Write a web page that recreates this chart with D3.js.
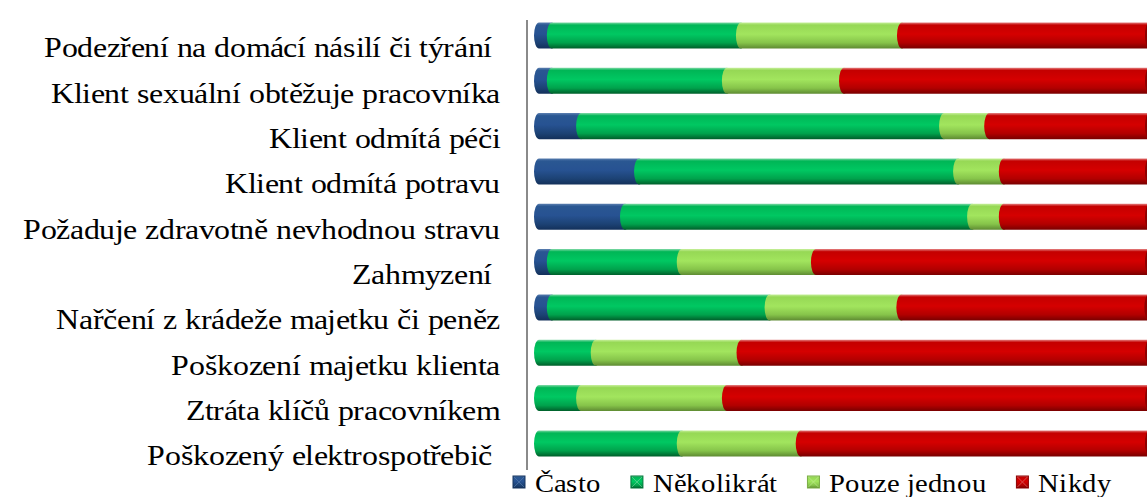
<!DOCTYPE html>
<html>
<head>
<meta charset="utf-8">
<script src="https://d3js.org/d3.v7.min.js"></script>
<style>
    @font-face {
        font-family: "ChartSerif";
        src: local("Liberation Serif"), local("LiberationSerif"), local("LiberationSerif-Regular"),
             local("Tinos"), local("Times New Roman");
    }
</style>
</head>
<body style="margin:0">
<svg width="1147" height="497"></svg>
<script>
    // categories top to bottom (trailing spaces are in the source labels)
    var categories = [
        "Podezření na domácí násilí či týrání ",
        "Klient sexuální obtěžuje pracovníka",
        "Klient odmítá péči",
        "Klient odmítá potravu",
        "Požaduje zdravotně nevhodnou stravu",
        "Zahmyzení ",
        "Nařčení z krádeže majetku či peněz",
        "Poškození majetku klienta",
        "Ztráta klíčů pracovníkem",
        "Poškozený elektrospotřebič "
    ];
    var seriesNames = ["Často", "Několikrát", "Pouze jednou", "Nikdy"];

    // percentages
    var casto      = [2.1, 2.1, 6.9, 16.4, 14.1, 2.1, 2.1, 0, 0, 0];
    var nekolikrat = [31.0, 28.7, 59.5, 52.3, 56.9, 21.3, 35.7, 9.3, 6.9, 23.4];
    var pouzeJednou = [26.4, 19.2, 7.4, 7.5, 5.2, 22.0, 21.6, 23.9, 23.9, 19.5];
    var nikdy      = [40.5, 50.0, 26.2, 23.8, 23.8, 54.6, 40.5, 66.8, 69.2, 57.1];

    var seriesValues = [casto, nekolikrat, pouzeJednou, nikdy];

    // gradient stops per series: top edge, upper, middle, lower, bottom
    var shades = [
        ["#5b7fb0", "#2a5792", "#275292", "#1c4274", "#13305a"],
        ["#7fd9a6", "#00b656", "#00c862", "#00a24c", "#005e2a"],
        ["#c6ef9a", "#96d855", "#a2e55e", "#86c44a", "#5e8a32"],
        ["#e48080", "#c40000", "#d50000", "#b20000", "#780000"]
    ];
    var capShades = ["#16345f", "#00773a", "#7aad45", "#8c0000"];

    var fontStack = "ChartSerif, 'Liberation Serif', Tinos, serif";
    var stretch = 1.1;  // the source picture is a bit wider than tall

    var svg = d3.select("svg");

    var x = d3.scaleLinear().domain([0, 100]).range([539, 1149]);
    var y = d3.scaleBand().domain(categories).range([12.8, 466.1])
        .paddingInner(0.426).paddingOuter(0.213);

    var defs = svg.append("defs");
    shades.forEach(function (s, i) {
        var g = defs.append("linearGradient")
            .attr("id", "grad" + i)
            .attr("x1", 0).attr("y1", 0).attr("x2", 0).attr("y2", 1);
        var offs = [0, 0.1, 0.45, 0.78, 1];
        s.forEach(function (c, k) {
            g.append("stop").attr("offset", offs[k]).attr("stop-color", c);
        });
    });

    // axis line
    svg.append("g")
        .attr("transform", "translate(527,0)")
        .call(d3.axisLeft(y).tickSize(0).tickFormat(""))
        .select(".domain")
        .attr("d", "M0,20V470")
        .attr("stroke", "#8a8a8a")
        .attr("stroke-width", 2);

    // stacked rows
    var rows = categories.map(function (c, i) {
        var acc = 0;
        return seriesValues.map(function (vals, s) {
            var seg = {cat: c, s: s, x0: acc, x1: acc + vals[i]};
            acc += vals[i];
            return seg;
        });
    });

    var rx = 5;
    function segPath(d) {
        var x0 = x(d.x0), x1 = x(d.x1);
        var t = y(d.cat), h = y.bandwidth(), ry = h / 2;
        return "M" + x0 + "," + t +
            "L" + x1 + "," + t +
            "A" + rx + "," + ry + " 0 0 1 " + x1 + "," + (t + h) +
            "L" + x0 + "," + (t + h) +
            "A" + rx + "," + ry + " 0 0 1 " + x0 + "," + t + "Z";
    }

    var rowG = svg.selectAll(".row")
        .data(rows)
        .enter().append("g")
        .attr("class", "row");

    rowG.selectAll("path")
        .data(function (r) { return r.filter(function (d) { return d.x1 - d.x0 > 0; }); })
        .enter().append("path")
        .attr("d", segPath)
        .attr("fill", function (d) { return "url(#grad" + d.s + ")"; });

    // end face of each cylinder
    rowG.append("ellipse")
        .attr("cx", function (r) { return x(r[r.length - 1].x1); })
        .attr("cy", function (r) { return y(r[0].cat) + y.bandwidth() / 2; })
        .attr("rx", rx - 1)
        .attr("ry", y.bandwidth() / 2 - 0.5)
        .attr("fill", function (r) { return capShades[r[r.length - 1].s]; });

    // category labels
    svg.selectAll(".label")
        .data(categories)
        .enter().append("text")
        .attr("class", "label")
        .attr("transform", function (d) {
            return "translate(500," + (y(d) + y.bandwidth() / 2 + 22) + ") scale(" + stretch + ",1)";
        })
        .attr("text-anchor", "end")
        .attr("font-family", fontStack)
        .style("font-family", fontStack)
        .style("font-size", "29px")
        .text(function (d) { return d.replace(/ $/, "\u00a0"); });

    // legend
    var lx = 513;
    seriesNames.forEach(function (name, i) {
        var g = svg.append("g").attr("transform", "translate(" + lx + ",476)");
        g.append("rect")
            .attr("width", 12).attr("height", 12)
            .attr("fill", "url(#grad" + i + ")")
            .attr("stroke", capShades[i]).attr("stroke-width", 1);
        g.append("path")
            .attr("d", "M1,1L11,11M11,1L1,11")
            .attr("stroke", shades[i][0]).attr("stroke-width", 1).attr("opacity", 0.6);
        var t = g.append("text")
            .attr("transform", "translate(22,16) scale(" + stretch + ",1)")
            .attr("font-family", fontStack)
            .style("font-family", fontStack)
            .style("font-size", "26px")
            .text(name);
        lx += 22 + t.node().getComputedTextLength() * stretch + 30;
    });
</script>
</body>
</html>
